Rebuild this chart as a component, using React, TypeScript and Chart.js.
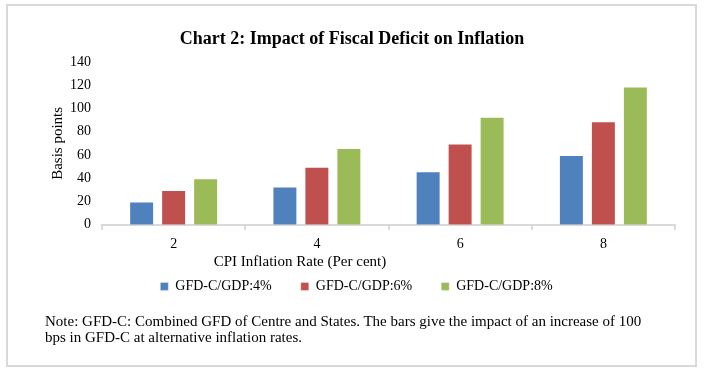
import React, { useEffect, useRef } from 'react';
import { Chart, registerables } from 'chart.js';

Chart.register(...registerables);

const categories = ['2', '4', '6', '8'];
const gfd4 = [20, 33, 46, 60];
const gfd6 = [30, 50, 70, 89];
const gfd8 = [40, 66, 93, 119];
const seriesLabels = ['GFD-C/GDP:4%', 'GFD-C/GDP:6%', 'GFD-C/GDP:8%'];
const yMin = 0;
const yMax = 140;
const yStep = 20;

const titleText = 'Chart 2: Impact of Fiscal Deficit on Inflation';
const xTitleText = 'CPI Inflation Rate (Per cent)';
const yTitleText = 'Basis points';
const noteLine1 = 'Note: GFD-C: Combined GFD of Centre and States. The bars give the impact of an increase of 100';
const noteLine2 = 'bps in GFD-C at alternative inflation rates.';

const FONT = "'Liberation Serif', 'Times New Roman', serif";

const xTitlePlugin = {
  id: 'xTitleText',
  afterDraw(chart: any) {
    const ctx = chart.ctx;
    ctx.save();
    ctx.font = `15px ${FONT}`;
    ctx.fillStyle = '#000';
    ctx.textAlign = 'center';
    ctx.textBaseline = 'middle';
    ctx.fillText(xTitleText, 300, 262);
    ctx.restore();
  },
};

export default function App() {
  const canvasRef = useRef<HTMLCanvasElement | null>(null);

  useEffect(() => {
    if (!canvasRef.current) return;
    const border = 'rgba(255,255,255,0.35)';
    const chart = new Chart(canvasRef.current, {
      type: 'bar',
      data: {
        labels: categories,
        datasets: [
          { label: seriesLabels[0], data: gfd4, backgroundColor: '#4F81BD', borderColor: border, borderWidth: 1 },
          { label: seriesLabels[1], data: gfd6, backgroundColor: '#C0504D', borderColor: border, borderWidth: 1 },
          { label: seriesLabels[2], data: gfd8, backgroundColor: '#9BBB59', borderColor: border, borderWidth: 1 },
        ],
      },
      options: {
        responsive: false,
        animation: false,
        layout: { padding: { left: 38, right: 29, top: 62, bottom: 69.6 } },
        datasets: { bar: { categoryPercentage: 0.67, barPercentage: 0.78 } },
        plugins: {
          title: { display: false },
          tooltip: { enabled: false },
          legend: {
            display: true,
            position: 'bottom',
            labels: {
              boxWidth: 8,
              boxHeight: 8,
              padding: 29,
              color: '#000',
              font: { family: FONT, size: 14 },
            },
          },
        },
        scales: {
          x: {
            type: 'category',
            afterFit: (scale: any) => { scale.height = 25.6; },
            grid: {
              display: true,
              drawOnChartArea: false,
              drawTicks: true,
              tickLength: 5,
              color: '#d9d9d9',
              lineWidth: 2,
              offset: true,
            },
            border: { display: true, color: '#d9d9d9', width: 2 },
            ticks: { color: '#000', font: { family: FONT, size: 14 }, padding: 6, maxRotation: 0 },
          },
          y: {
            min: yMin,
            max: yMax,
            afterFit: (scale: any) => { scale.width = 64; },
            grid: { display: false, drawTicks: false },
            border: { display: false },
            ticks: { stepSize: yStep, color: '#000', font: { family: FONT, size: 14 }, padding: 11 },
            title: {
              display: true,
              text: yTitleText,
              color: '#000',
              font: { family: FONT, size: 15 },
              padding: { top: 11, bottom: 0 },
            },
          },
        },
      },
      plugins: [xTitlePlugin],
    } as any);
    return () => chart.destroy();
  }, []);

  return (
    <div style={{ position: 'absolute', left: 0, top: 0, width: 704, height: 373, background: '#fff', overflow: 'hidden' }}>
      <div
        style={{
          position: 'absolute', left: 6, top: 4, width: 691, height: 363,
          border: '2px solid #d9d9d9', boxSizing: 'border-box',
        }}
      />
      <canvas ref={canvasRef} width={704} height={373} style={{ position: 'absolute', left: 0, top: 0, width: 704, height: 373 }} />
      <div
        style={{
          position: 'absolute', left: 0, top: 26.5, width: 704, textAlign: 'center',
          font: `bold 18px ${FONT}`, lineHeight: '22px', color: '#000',
        }}
      >
        {titleText}
      </div>
      <div
        style={{
          position: 'absolute', left: 45, top: 313, whiteSpace: 'nowrap',
          font: `15px ${FONT}`, lineHeight: '16px', color: '#000',
        }}
      >
        {noteLine1}
        <br />
        {noteLine2}
      </div>
    </div>
  );
}
